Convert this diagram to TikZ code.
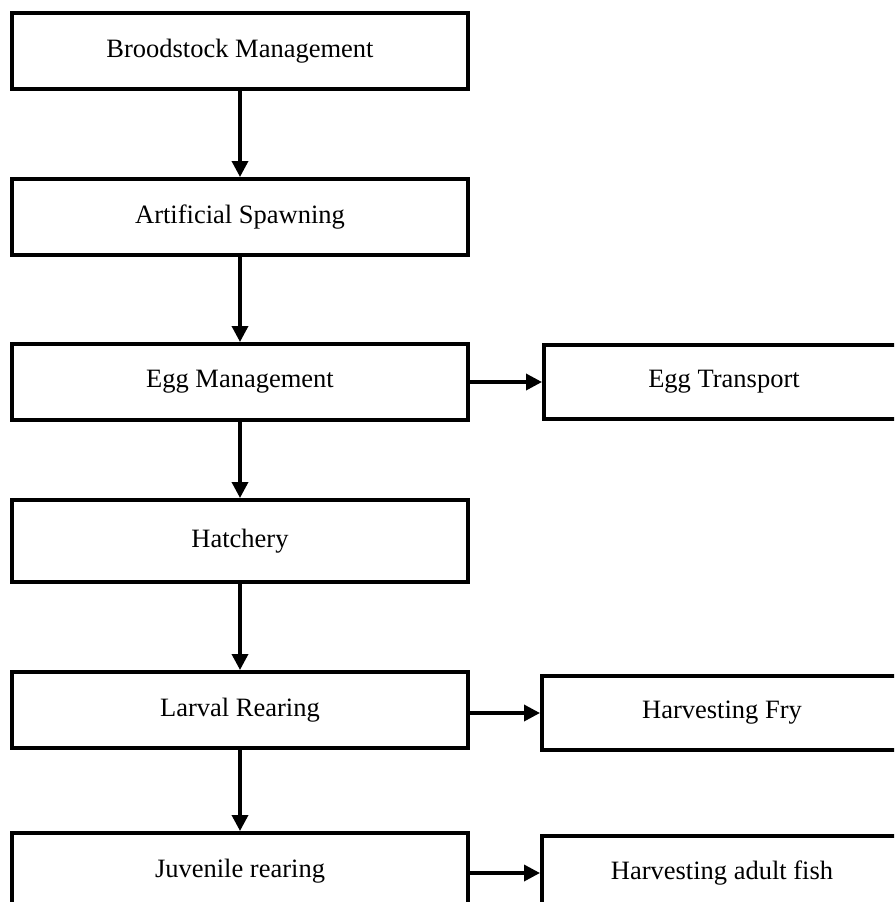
\documentclass[tikz,border=0pt]{standalone}
\usepackage{fontspec}
\setmainfont{Liberation Serif}
\usetikzlibrary{arrows.meta}
\tikzset{
    stage/.style={draw, line width=4pt, minimum width=456pt, minimum height=76pt, inner sep=0pt, font=\fontsize{26.5}{30}\selectfont},
    outcome/.style={draw, line width=4pt, minimum width=360pt, minimum height=74pt, inner sep=0pt, font=\fontsize{26.5}{30}\selectfont},
    flow/.style={line width=3.5pt, -{Triangle[length=16pt, width=16pt]}}
}
\begin{document}
\begin{tikzpicture}[x=1pt, y=-1pt]
        \useasboundingbox (0,0) rectangle (894,902);
        \fill[white] (0,0) rectangle (894,902);
        \clip (0,0) rectangle (894,902);

        % Fasi principali (colonna di sinistra)
        \node[stage](broodstock) at (240,51) {Broodstock Management};
        \node[stage](spawning) at (240,217) {Artificial Spawning};
        \node[stage](eggmgmt) at (240,382) {Egg Management};
        \node[stage, minimum height=82pt](hatchery) at (240,541) {Hatchery};
        \node[stage](larval) at (240,710) {Larval Rearing};
        \node[stage](juvenile) at (240,871) {Juvenile rearing};

        % Uscite (colonna di destra)
        \node[outcome](eggtransport) at (724,382) {Egg Transport};
        \node[outcome](fry) at (722,713) {Harvesting Fry};
        \node[outcome](adult) at (722,873) {Harvesting adult fish};

        % Collegamenti verticali
        \draw[flow] (broodstock)--(spawning);
        \draw[flow] (spawning)--(eggmgmt);
        \draw[flow] (eggmgmt)--(hatchery);
        \draw[flow] (hatchery)--(larval);
        \draw[flow] (larval)--(juvenile);

        % Collegamenti orizzontali
        \draw[flow] (eggmgmt)--(eggtransport);
        \draw[flow] (larval.east |- fry)--(fry);
        \draw[flow] (juvenile.east |- adult)--(adult);
    \end{tikzpicture}
\end{document}
